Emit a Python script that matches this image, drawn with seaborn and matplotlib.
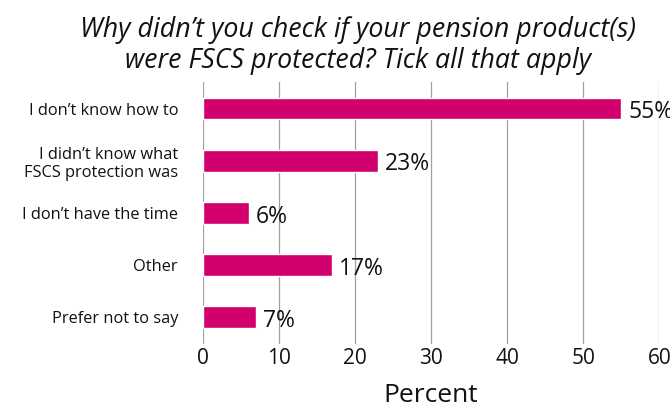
import matplotlib
matplotlib.use("Agg")
import matplotlib.pyplot as plt
import seaborn as sns
import pandas as pd

categories = ["I don\u2019t know how to", "I didn\u2019t know what\nFSCS protection was",
              "I don\u2019t have the time", "Other", "Prefer not to say"]
values = [55, 23, 6, 17, 7]
xticks = [0, 10, 20, 30, 40, 50, 60]

df = pd.DataFrame({"reason": categories, "pct": values})

sns.set_theme(style="white")
plt.rcParams['font.family'] = ['Open Sans', 'DejaVu Sans']
plt.rcParams['text.color'] = '#111111'
plt.rcParams['xtick.color'] = '#111111'
plt.rcParams['ytick.color'] = '#111111'
plt.rcParams['axes.labelcolor'] = '#111111'

fig = plt.figure(figsize=(6.7, 4.08), dpi=100)
ax = fig.add_axes([0.303, 0.158, 0.681, 0.64])
sns.barplot(data=df, x="pct", y="reason", color="#D1006D", saturation=1, width=0.42, ax=ax, zorder=3)
ax.set_xlim(0, 60)
ax.set_xticks(xticks)
ax.set_xticklabels([str(t) for t in xticks], fontsize=15)
ax.tick_params(axis='y', labelsize=11.8, length=0, pad=18)
ax.tick_params(axis='x', length=0, pad=3)
ax.grid(axis='x', color='#a0a0a0', linewidth=0.9, zorder=0)
ax.grid(axis='y', visible=False)
for s in ax.spines.values():
    s.set_visible(False)
ax.set_ylabel("")
ax.set_xlabel("Percent", fontsize=19, labelpad=10)
for i, v in enumerate(values):
    ax.text(v + 0.9, i + 0.07, f"{v}%", va='center', ha='left', fontsize=16.5, zorder=4)
fig.text(0.535, 0.962, "Why didn\u2019t you check if your pension product(s)\nwere FSCS protected? Tick all that apply",
         ha='center', va='top', fontsize=19.3, style='italic', linespacing=1.18)
fig.savefig("out.png", dpi=100)
